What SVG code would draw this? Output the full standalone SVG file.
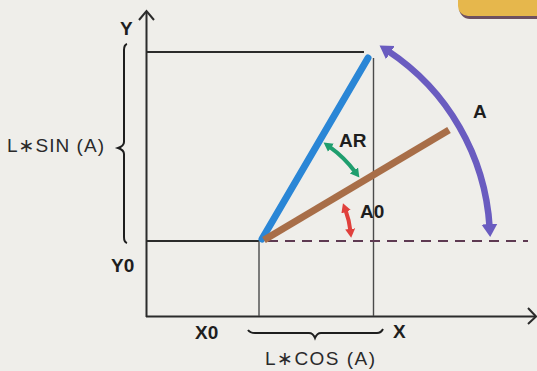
<svg xmlns="http://www.w3.org/2000/svg" width="537" height="371" viewBox="0 0 537 371">
<style>
.ax{stroke:#2b2b2b;stroke-width:2;fill:none}
.thin{stroke:#4a4a4a;stroke-width:1.4;fill:none}
.lbl{font-family:"Liberation Sans","DejaVu Sans",Arial,sans-serif;font-weight:bold;font-size:19px;fill:#1e1e1e}
.txt{font-family:"Liberation Sans","DejaVu Sans",Arial,sans-serif;font-size:19px;fill:#2a2a2a}
.brace{stroke:#1e1e1e;stroke-width:2;fill:none}
</style>
<defs>
<marker id="mPur" markerWidth="14" markerHeight="18" refX="3" refY="9" orient="auto-start-reverse" markerUnits="userSpaceOnUse">
<path d="M0,1 L13,9 L0,17 Z" fill="#6a5cc0"/>
</marker>
<marker id="mGrn" markerWidth="10" markerHeight="12" refX="2" refY="6" orient="auto-start-reverse" markerUnits="userSpaceOnUse">
<path d="M0,1 L9,6 L0,11 Z" fill="#1f9e6e"/>
</marker>
<marker id="mRed" markerWidth="10" markerHeight="12" refX="2" refY="6" orient="auto-start-reverse" markerUnits="userSpaceOnUse">
<path d="M0,1 L9,6 L0,11 Z" fill="#e0403c"/>
</marker>
</defs>
<rect width="537" height="371" fill="#efeeea"/>
<g id="tab">
<rect x="459" y="-20" width="100" height="39" rx="11" fill="#6e5060"/>
<rect x="458" y="-22" width="100" height="38" rx="10" fill="#e6b74c"/>
</g>
<g id="connectors">
<path class="ax" d="M146.5,317 V12"/>
<path class="ax" d="M139,20 L146.5,11 L154,20"/>
<path class="ax" d="M146,316.5 H535"/>
<path class="ax" d="M528,308 L536,316.5 L528,324"/>
<path class="ax" d="M146,52 H364"/>
<path class="thin" d="M373.5,58 V316"/>
<path class="ax" d="M146,241 H259"/>
<path class="thin" d="M259,241 V316"/>
<path d="M268,241 H528" stroke="#5e3a52" stroke-width="2" stroke-dasharray="10,7" fill="none"/>
<path d="M262,239 L368,58" stroke="#2a86d6" stroke-width="7" stroke-linecap="round"/>
<path d="M264,240 L449,130" stroke="#a86e48" stroke-width="7"/>
<path d="M489.6,227.1 A228,228 0 0 0 387.9,50.9" stroke="#6a5cc0" stroke-width="6.5" fill="none" marker-start="url(#mPur)" marker-end="url(#mPur)"/>
<path d="M355.2,172 A116,116 0 0 0 329.3,146.6" stroke="#1f9e6e" stroke-width="4" fill="none" marker-start="url(#mGrn)" marker-end="url(#mGrn)"/>
<path d="M350.4,230.9 A89,89 0 0 0 345.4,209.8" stroke="#e0403c" stroke-width="4" fill="none" marker-start="url(#mRed)" marker-end="url(#mRed)"/>
<path class="brace" d="M127,44 Q124,45 124,50 V142 Q124,146 118,148 Q124,150 124,154 V237 Q124,242 127,243"/>
<path class="brace" d="M248,330 Q250,333 255,333 H309 Q313,333 315,338 Q317,333 321,333 H377 Q381,333 383,329"/>
</g>
<g id="labels">
<text class="lbl" x="120" y="35">Y</text>
<text class="lbl" x="111" y="272">Y0</text>
<text class="lbl" x="195" y="339">X0</text>
<text class="lbl" x="393" y="338">X</text>
<text class="lbl" x="339" y="147">AR</text>
<text class="lbl" x="360" y="218">A0</text>
<text class="lbl" x="473" y="118">A</text>
<text class="txt" x="7" y="152" textLength="97" lengthAdjust="spacing">L∗SIN (A)</text>
<text class="txt" x="265" y="365" textLength="110" lengthAdjust="spacing">L∗COS (A)</text>
</g>
</svg>
